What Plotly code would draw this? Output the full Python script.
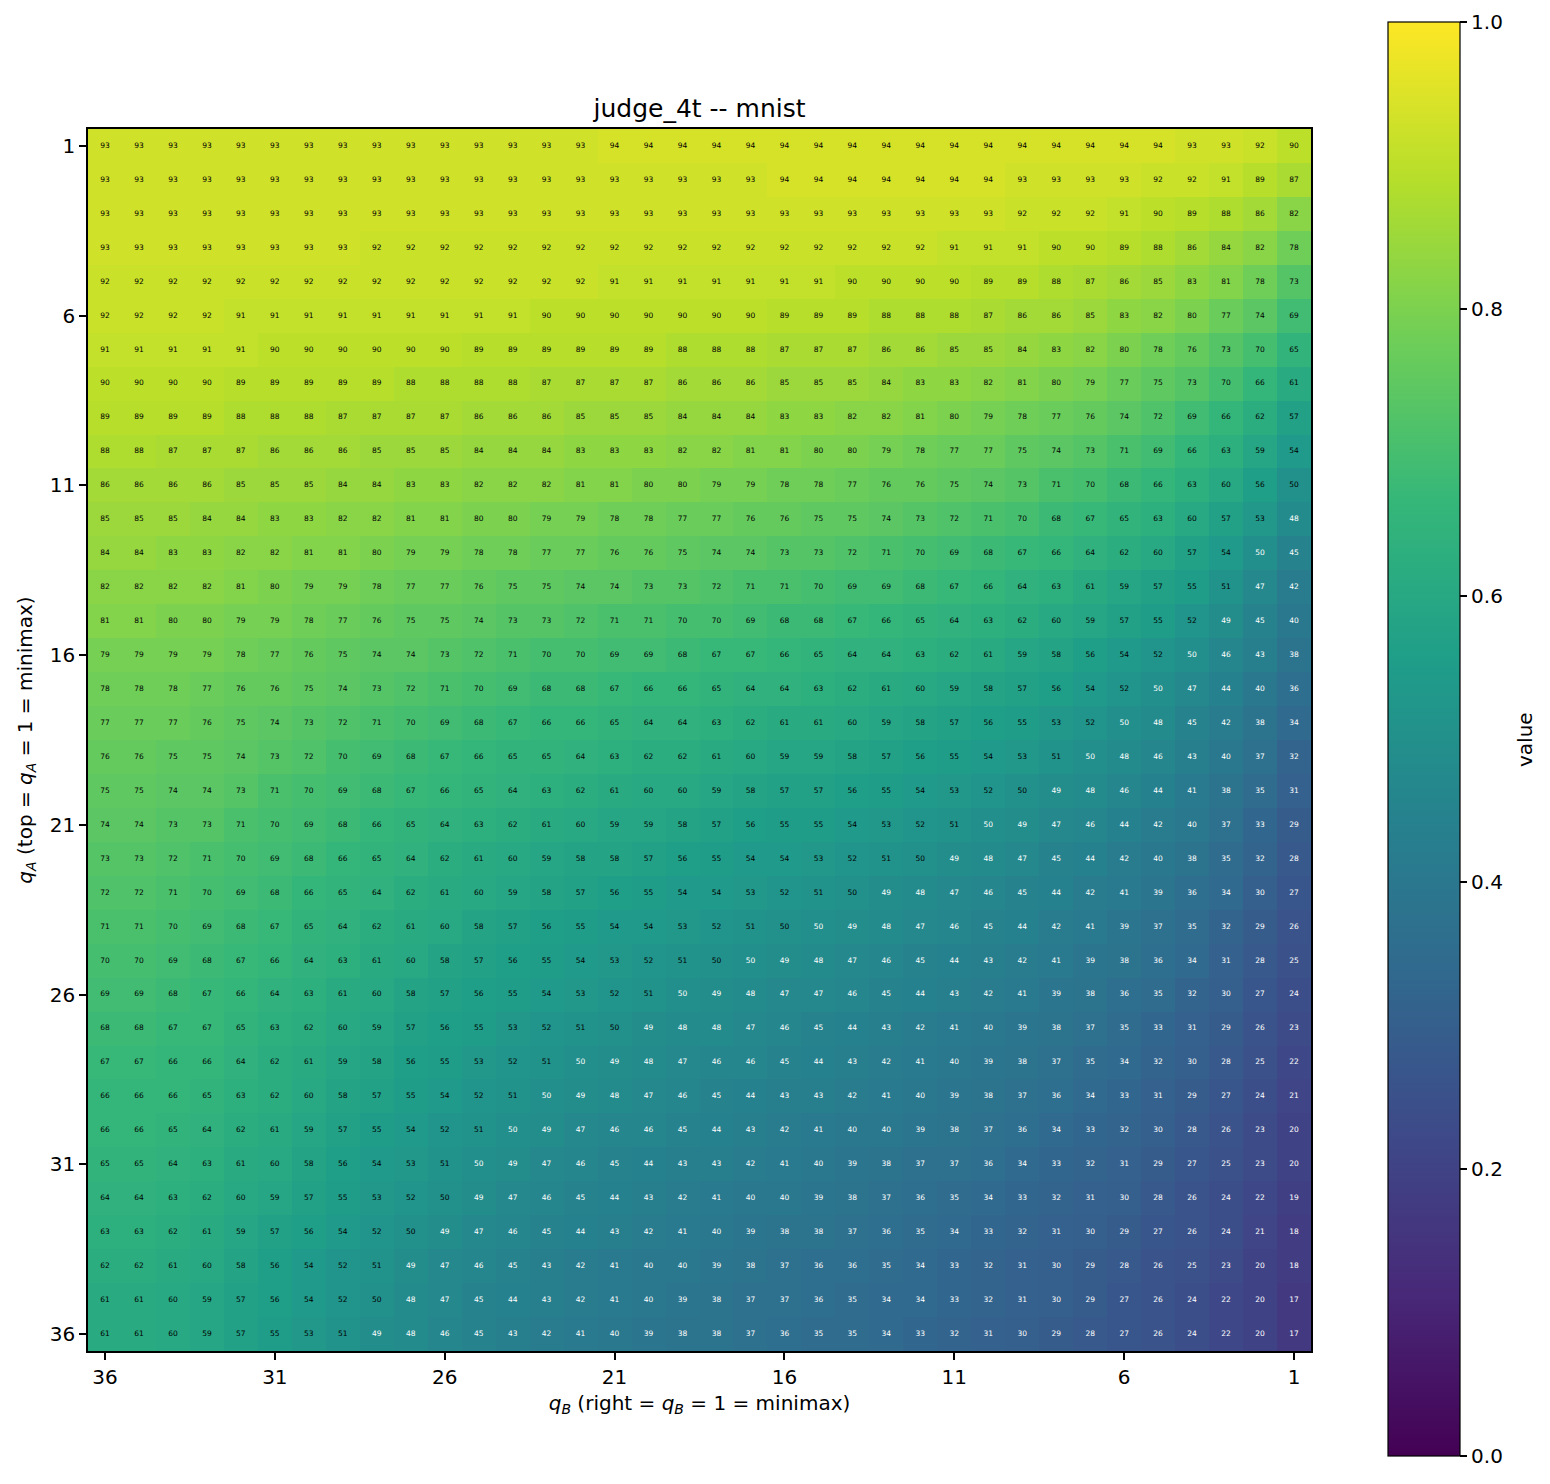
import plotly.graph_objects as go

# Column labels (q_B), displayed left -> right
qB = [36, 35, 34, 33, 32, 31, 30, 29, 28, 27, 26, 25, 24, 23, 22, 21, 20, 19,
      18, 17, 16, 15, 14, 13, 12, 11, 10, 9, 8, 7, 6, 5, 4, 3, 2, 1]
# Row labels (q_A), top -> bottom
qA = [1, 2, 3, 4, 5, 6, 7, 8, 9, 10, 11, 12, 13, 14, 15, 16, 17, 18,
      19, 20, 21, 22, 23, 24, 25, 26, 27, 28, 29, 30, 31, 32, 33, 34, 35, 36]

tick_x = [36, 31, 26, 21, 16, 11, 6, 1]
tick_y = [1, 6, 11, 16, 21, 26, 31, 36]
cbar_ticks = [0.0, 0.2, 0.4, 0.6, 0.8, 1.0]

# Values in percent (row = q_A, columns follow qB order)
vals_pct = [
    [93,93,93,93,93,93,93,93,93,93,93,93,93,93,93,94,94,94, 94,94,94,94,94,94,94,94,94,94,94,94,94,94,93,93,92,90],
    [93,93,93,93,93,93,93,93,93,93,93,93,93,93,93,93,93,93, 93,93,94,94,94,94,94,94,94,93,93,93,93,92,92,91,89,87],
    [93,93,93,93,93,93,93,93,93,93,93,93,93,93,93,93,93,93, 93,93,93,93,93,93,93,93,93,92,92,92,91,90,89,88,86,82],
    [93,93,93,93,93,93,93,93,92,92,92,92,92,92,92,92,92,92, 92,92,92,92,92,92,92,91,91,91,90,90,89,88,86,84,82,78],
    [92,92,92,92,92,92,92,92,92,92,92,92,92,92,92,91,91,91, 91,91,91,91,90,90,90,90,89,89,88,87,86,85,83,81,78,73],
    [92,92,92,92,91,91,91,91,91,91,91,91,91,90,90,90,90,90, 90,90,89,89,89,88,88,88,87,86,86,85,83,82,80,77,74,69],
    [91,91,91,91,91,90,90,90,90,90,90,89,89,89,89,89,89,88, 88,88,87,87,87,86,86,85,85,84,83,82,80,78,76,73,70,65],
    [90,90,90,90,89,89,89,89,89,88,88,88,88,87,87,87,87,86, 86,86,85,85,85,84,83,83,82,81,80,79,77,75,73,70,66,61],
    [89,89,89,89,88,88,88,87,87,87,87,86,86,86,85,85,85,84, 84,84,83,83,82,82,81,80,79,78,77,76,74,72,69,66,62,57],
    [88,88,87,87,87,86,86,86,85,85,85,84,84,84,83,83,83,82, 82,81,81,80,80,79,78,77,77,75,74,73,71,69,66,63,59,54],
    [86,86,86,86,85,85,85,84,84,83,83,82,82,82,81,81,80,80, 79,79,78,78,77,76,76,75,74,73,71,70,68,66,63,60,56,50.4],
    [85,85,85,84,84,83,83,82,82,81,81,80,80,79,79,78,78,77, 77,76,76,75,75,74,73,72,71,70,68,67,65,63,60,57,53,48],
    [84,84,83,83,82,82,81,81,80,79,79,78,78,77,77,76,76,75, 74,74,73,73,72,71,70,69,68,67,66,64,62,60,57,54,49.6,45],
    [82,82,82,82,81,80,79,79,78,77,77,76,75,75,74,74,73,73, 72,71,71,70,69,69,68,67,66,64,63,61,59,57,55,51,47,42],
    [81,81,80,80,79,79,78,77,76,75,75,74,73,73,72,71,71,70, 70,69,68,68,67,66,65,64,63,62,60,59,57,55,52,49,45,40],
    [79,79,79,79,78,77,76,75,74,74,73,72,71,70,70,69,69,68, 67,67,66,65,64,64,63,62,61,59,58,56,54,52,49.6,46,43,38],
    [78,78,78,77,76,76,75,74,73,72,71,70,69,68,68,67,66,66, 65,64,64,63,62,61,60,59,58,57,56,54,52,49.6,47,44,40,36],
    [77,77,77,76,75,74,73,72,71,70,69,68,67,66,66,65,64,64, 63,62,61,61,60,59,58,57,56,55,53,52,49.6,48,45,42,38,34],
    [76,76,75,75,74,73,72,70,69,68,67,66,65,65,64,63,62,62, 61,60,59,59,58,57,56,55,54,53,51,49.6,48,46,43,40,37,32],
    [75,75,74,74,73,71,70,69,68,67,66,65,64,63,62,61,60,60, 59,58,57,57,56,55,54,53,52,50.4,49,48,46,44,41,38,35,31],
    [74,74,73,73,71,70,69,68,66,65,64,63,62,61,60,59,59,58, 57,56,55,55,54,53,52,51,49.6,49,47,46,44,42,40,37,33,29],
    [73,73,72,71,70,69,68,66,65,64,62,61,60,59,58,58,57,56, 55,54,54,53,52,51,50.4,49,48,47,45,44,42,40,38,35,32,28],
    [72,72,71,70,69,68,66,65,64,62,61,60,59,58,57,56,55,54, 54,53,52,51,50.4,49,48,47,46,45,44,42,41,39,36,34,30,27],
    [71,71,70,69,68,67,65,64,62,61,60,58,57,56,55,54,54,53, 52,51,50.4,49.6,49,48,47,46,45,44,42,41,39,37,35,32,29,26],
    [70,70,69,68,67,66,64,63,61,60,58,57,56,55,54,53,52,51, 50.4,49.6,49,48,47,46,45,44,43,42,41,39,38,36,34,31,28,25],
    [69,69,68,67,66,64,63,61,60,58,57,56,55,54,53,52,51,49.6, 49,48,47,47,46,45,44,43,42,41,39,38,36,35,32,30,27,24],
    [68,68,67,67,65,63,62,60,59,57,56,55,53,52,51,50.4,49,48, 48,47,46,45,44,43,42,41,40,39,38,37,35,33,31,29,26,23],
    [67,67,66,66,64,62,61,59,58,56,55,53,52,51,49.6,49,48,47, 46,46,45,44,43,42,41,40,39,38,37,35,34,32,30,28,25,22],
    [66,66,66,65,63,62,60,58,57,55,54,52,51,49.6,49,48,47,46, 45,44,43,43,42,41,40,39,38,37,36,34,33,31,29,27,24,21],
    [66,66,65,64,62,61,59,57,55,54,52,51,49.6,49,47,46,46,45, 44,43,42,41,40,40,39,38,37,36,34,33,32,30,28,26,23,20],
    [65,65,64,63,61,60,58,56,54,53,51,49.6,49,47,46,45,44,43, 43,42,41,40,39,38,37,37,36,34,33,32,31,29,27,25,23,20],
    [64,64,63,62,60,59,57,55,53,52,50.4,49,47,46,45,44,43,42, 41,40,40,39,38,37,36,35,34,33,32,31,30,28,26,24,22,19],
    [63,63,62,61,59,57,56,54,52,50.4,49,47,46,45,44,43,42,41, 40,39,38,38,37,36,35,34,33,32,31,30,29,27,26,24,21,18],
    [62,62,61,60,58,56,54,52,51,49,47,46,45,43,42,41,40,40, 39,38,37,36,36,35,34,33,32,31,30,29,28,26,25,23,20,18],
    [61,61,60,59,57,56,54,52,50.4,48,47,45,44,43,42,41,40,39, 38,37,37,36,35,34,34,33,32,31,30,29,27,26,24,22,20,17],
    [61,61,60,59,57,55,53,51,49,48,46,45,43,42,41,40,39,38, 38,37,36,35,35,34,33,32,31,30,29,28,27,26,24,22,20,17],
]

z = [[v / 100.0 for v in row] for row in vals_pct]

# Text overlay
tx, ty, tt, tc = [], [], [], []
for i, a in enumerate(qA):
    for j, b in enumerate(qB):
        v = z[i][j]
        tx.append(b)
        ty.append(a)
        tt.append(str(int(round(v * 100))))
        tc.append("white" if v < 0.5 else "black")

W, H = 1550, 1484
# page renders with ~8px offset; compensate
OFF = 8
L, T = 88 - OFF, 129 - OFF
pw, ph = 1223, 1222
R, B = L + pw, T + ph

fig = go.Figure()
fig.add_trace(go.Heatmap(
    x=qB, y=qA, z=z,
    colorscale="Viridis", zmin=0, zmax=1,
    hoverinfo="skip",
    colorbar=dict(
        x=(1388 - OFF - L) / pw, xanchor="left",
        y=(B - (739 - OFF)) / ph, yanchor="middle",
        len=1434, lenmode="pixels",
        thickness=72, thicknessmode="pixels",
        xpad=0, ypad=0,
        outlinewidth=1.2, outlinecolor="black",
        tickvals=cbar_ticks, tickformat=".1f",
        ticks="outside", ticklen=7, tickwidth=1.5, tickcolor="black",
        tickfont=dict(family="DejaVu Sans", size=20, color="black"),
    ),
))
fig.add_trace(go.Scatter(
    x=tx, y=ty, text=tt, mode="text",
    textfont=dict(family="DejaVu Sans", size=7.5, color=tc),
    hoverinfo="skip", showlegend=False,
))

axis_common = dict(
    showgrid=False, zeroline=False,
    showline=True, linecolor="black", linewidth=1.5, mirror=True,
    ticks="outside", ticklen=7, tickwidth=1.5, tickcolor="black",
    tickfont=dict(family="DejaVu Sans", size=20, color="black"),
)

fig.update_layout(
    width=W, height=H,
    margin=dict(l=L, r=W - R, t=T, b=H - B),
    paper_bgcolor="white", plot_bgcolor="white",
    showlegend=False,
    title=dict(text="judge_4t -- mnist", x=(L + R) / 2 / W, xanchor="center",
               y=1 - (108 - OFF) / H, yanchor="middle", yref="container", xref="container",
               font=dict(family="DejaVu Sans", size=25, color="black")),
    xaxis=dict(axis_common, range=[36.5, 0.5], tickvals=tick_x,
               ticktext=[str(v) for v in tick_x],
               title=dict(text="<i>q</i><sub><i>B</i></sub> (right = <i>q</i><sub><i>B</i></sub> = 1 = minimax)",
                          standoff=8,
                          font=dict(family="DejaVu Sans", size=20, color="black"))),
    yaxis=dict(axis_common, range=[36.5, 0.5], tickvals=tick_y,
               ticktext=[str(v) for v in tick_y],
               title=dict(text="<i>q</i><sub><i>A</i></sub> (top = <i>q</i><sub><i>A</i></sub> = 1 = minimax)",
                          standoff=12,
                          font=dict(family="DejaVu Sans", size=20, color="black"))),
    annotations=[dict(
        text="value", textangle=-90, showarrow=False,
        xref="paper", yref="paper",
        x=(1525 - OFF - L) / pw, y=(B - (740 - OFF)) / ph,
        xanchor="center", yanchor="middle",
        font=dict(family="DejaVu Sans", size=20, color="black"),
    )],
)

fig.write_html("out.html")
